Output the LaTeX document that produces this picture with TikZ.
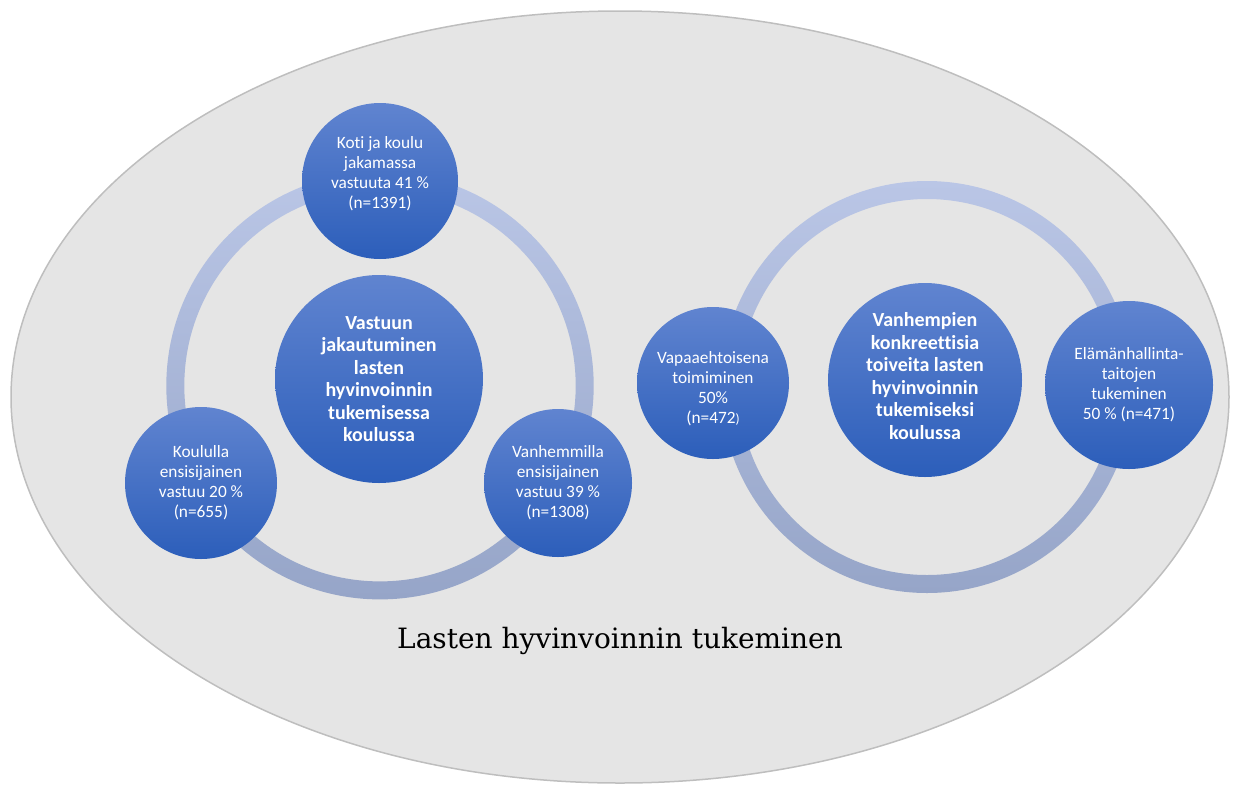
\documentclass[tikz,border=0pt]{standalone}
\usepackage{fontspec}
\newfontfamily\carl[Ligatures=NoCommon]{Carlito}
\newfontfamily\lblfont{DejaVu Serif}
\definecolor{bgfill}{RGB}{229,229,229}
\definecolor{bgline}{RGB}{190,190,190}
\definecolor{cT}{RGB}{96,132,208}
\definecolor{cB}{RGB}{44,94,186}
\definecolor{rT}{RGB}{186,198,230}
\definecolor{rB}{RGB}{150,165,200}
\begin{document}
\begin{tikzpicture}[x=1pt,y=-1pt,
  bub/.style={circle, inner sep=0pt, minimum size=#1, top color=cT, bottom color=cB, draw=none},
  txt/.style={text=white, align=center, inner sep=0pt, font=\carl\fontsize{17.3}{20}\selectfont},
  bigtxt/.style={txt, font=\carl\bfseries\fontsize{20}{22.5}\selectfont},
  ring/.style={top color=rT, bottom color=rB, even odd rule}]
\useasboundingbox (0,0) rectangle (1237,785);
\draw[fill=bgfill, draw=bgline, line width=1.5pt] (620,397) ellipse[x radius=609pt, y radius=386pt];
% rings
\shade[ring] (380,385.7) circle[radius=213.7pt] circle[radius=195.7pt];
\shade[ring] (927,387) circle[radius=206pt] circle[radius=188pt];
% left group
\node[bub=208pt] (c1) at (379,379) {};
\node[bigtxt] (c1t) at (c1) {Vastuun\\jakautuminen\\lasten\\hyvinvoinnin\\tukemisessa\\koulussa};
\node[bub=156pt] (k1) at (380,181) {};
\node[txt, yshift=7pt] (k1t) at (k1) {Koti ja koulu\\jakamassa\\vastuuta 41 \%\\(n=1391)};
\node[bub=152pt] (k2) at (201,483) {};
\node[txt] (k2t) at (k2) {Koululla\\ensisijainen\\vastuu 20 \%\\(n=655)};
\node[bub=148pt] (k3) at (558,483) {};
\node[txt] (k3t) at (k3) {Vanhemmilla\\ensisijainen\\vastuu 39 \%\\(n=1308)};
% right group
\node[bub=194pt] (c2) at (925,380) {};
\node[bigtxt, yshift=4pt] (c2t) at (c2) {Vanhempien\\konkreettisia\\toiveita lasten\\hyvinvoinnin\\tukemiseksi\\koulussa};
\node[bub=152pt] (r1) at (713,383) {};
\node[txt, yshift=-6pt] (r1t) at (r1) {Vapaaehtoisena\\toimiminen\\50\%\\(n=472{\fontsize{13.5}{20}\selectfont )}};
\node[bub=168pt] (r2) at (1129,385) {};
\node[txt] (r2t) at (r2) {Elämänhallinta-\\taitojen\\tukeminen\\50 \% (n=471)};
% label
\node[font=\lblfont\fontsize{28}{34}\selectfont] (lbl) at (620,641) {Lasten hyvinvoinnin tukeminen};
\end{tikzpicture}
\end{document}
